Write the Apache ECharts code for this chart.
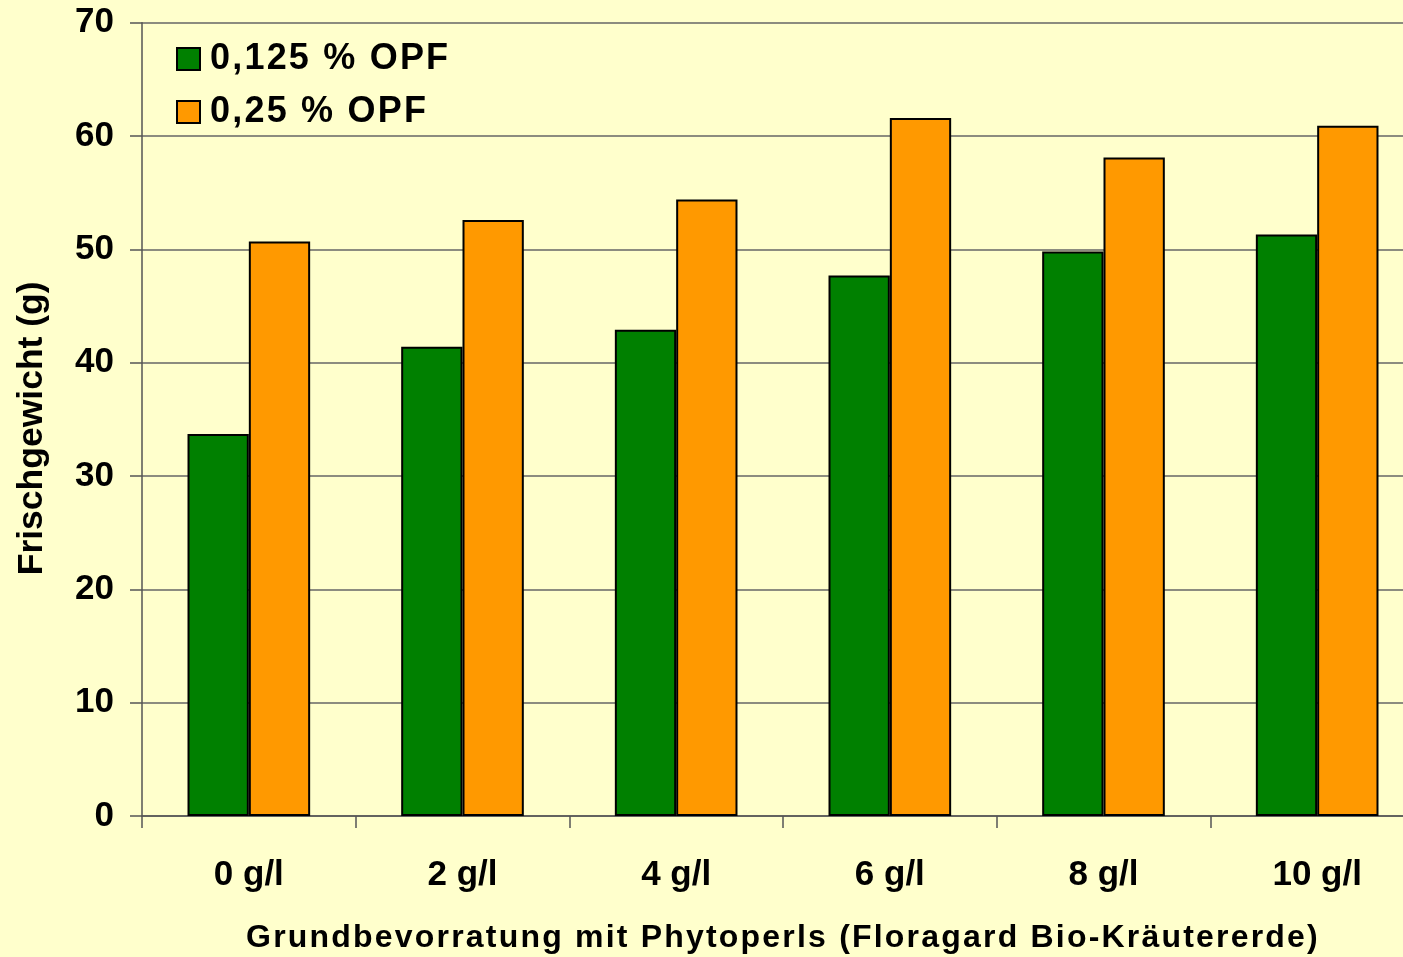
<!DOCTYPE html>
<html>
<head>
<meta charset="utf-8">
<script src="https://cdn.jsdelivr.net/npm/echarts@6/dist/echarts.min.js"></script>
<style>
  html, body { margin: 0; padding: 0; background: #FFFFCC; overflow: hidden; }
  #chart { width: 1403px; height: 957px; }
</style>
</head>
<body>
<div id="chart"></div>
<script>
// Fresh weight by basic Phytoperls dosage
const categories = ['0 g/l', '2 g/l', '4 g/l', '6 g/l', '8 g/l', '10 g/l'];
const seriesNames = ['0,125 % OPF', '0,25 % OPF'];
const opf0125 = [33.7, 41.4, 42.9, 47.7, 49.8, 51.3];
const opf025 = [50.7, 52.6, 54.4, 61.6, 58.1, 60.9];
const yTicks = [0, 10, 20, 30, 40, 50, 60, 70];

// Wider tracking for the legend and x-axis title text (keyed by font size)
const trackingBySize = { '36': '2.2px', '32': '2.2px' };
const baseFillText = CanvasRenderingContext2D.prototype.fillText;
CanvasRenderingContext2D.prototype.fillText = function (text, x, y, maxWidth) {
  if ('letterSpacing' in this) {
    const m = /([\d.]+)px/.exec(this.font);
    this.letterSpacing = (m && trackingBySize[m[1]]) || '0px';
  }
  return maxWidth === undefined
    ? baseFillText.call(this, text, x, y)
    : baseFillText.call(this, text, x, y, maxWidth);
};

const font = 'Arial, "Liberation Sans", sans-serif';
const chart = echarts.init(document.getElementById('chart'), null, { renderer: 'canvas' });

chart.setOption({
  backgroundColor: '#FFFFCC',
  animation: false,
  textStyle: { fontFamily: font },
  grid: {
    left: 142, right: -21, top: 22.7, bottom: 141,
    containLabel: false,
    outerBoundsMode: 'none'
  },
  legend: {
    orient: 'vertical',
    left: 176,
    top: 41,
    padding: 0,
    itemWidth: 23,
    itemHeight: 22,
    itemGap: 17,
    icon: 'rect',
    data: seriesNames,
    itemStyle: { borderColor: '#000', borderWidth: 2 },
    textStyle: { fontFamily: font, fontWeight: 'bold', fontSize: 36, color: '#000', padding: [0, 0, 0, 5] }
  },
  xAxis: {
    type: 'category',
    data: categories,
    name: 'Grundbevorratung mit Phytoperls (Floragard Bio-Kräutererde)',
    nameLocation: 'middle',
    nameGap: 106,
    nameTextStyle: { fontFamily: font, fontWeight: 'bold', fontSize: 32, color: '#000' },
    axisLine: { lineStyle: { color: '#555', width: 1.5 } },
    axisTick: { show: true, length: 12, lineStyle: { color: '#555', width: 1.5 } },
    axisLabel: { margin: 42, fontFamily: font, fontWeight: 'bold', fontSize: 35, color: '#000' },
    splitLine: { show: false }
  },
  yAxis: {
    type: 'value',
    min: yTicks[0],
    max: yTicks[yTicks.length - 1],
    interval: 10,
    name: 'Frischgewicht (g)',
    nameLocation: 'middle',
    nameGap: 92,
    nameTextStyle: {
      fontFamily: font, fontWeight: 'bold', fontSize: 35.5, color: '#000',
      padding: [0, 18, 0, 0]
    },
    axisLine: { show: true, lineStyle: { color: '#555', width: 1.5 } },
    axisTick: { show: true, length: 12, lineStyle: { color: '#555', width: 1.5 } },
    axisLabel: { margin: 28, fontFamily: font, fontWeight: 'bold', fontSize: 35, color: '#000' },
    splitLine: { show: true, lineStyle: { color: '#666', width: 1.5 } }
  },
  series: [
    {
      name: seriesNames[0],
      type: 'bar',
      data: opf0125,
      barGap: '0%',
      barCategoryGap: '42.6%',
      itemStyle: { color: '#008000', borderColor: '#000', borderWidth: 2 }
    },
    {
      name: seriesNames[1],
      type: 'bar',
      data: opf025,
      barGap: '0%',
      barCategoryGap: '42.6%',
      itemStyle: { color: '#FF9900', borderColor: '#000', borderWidth: 2 }
    }
  ]
});
</script>
</body>
</html>
